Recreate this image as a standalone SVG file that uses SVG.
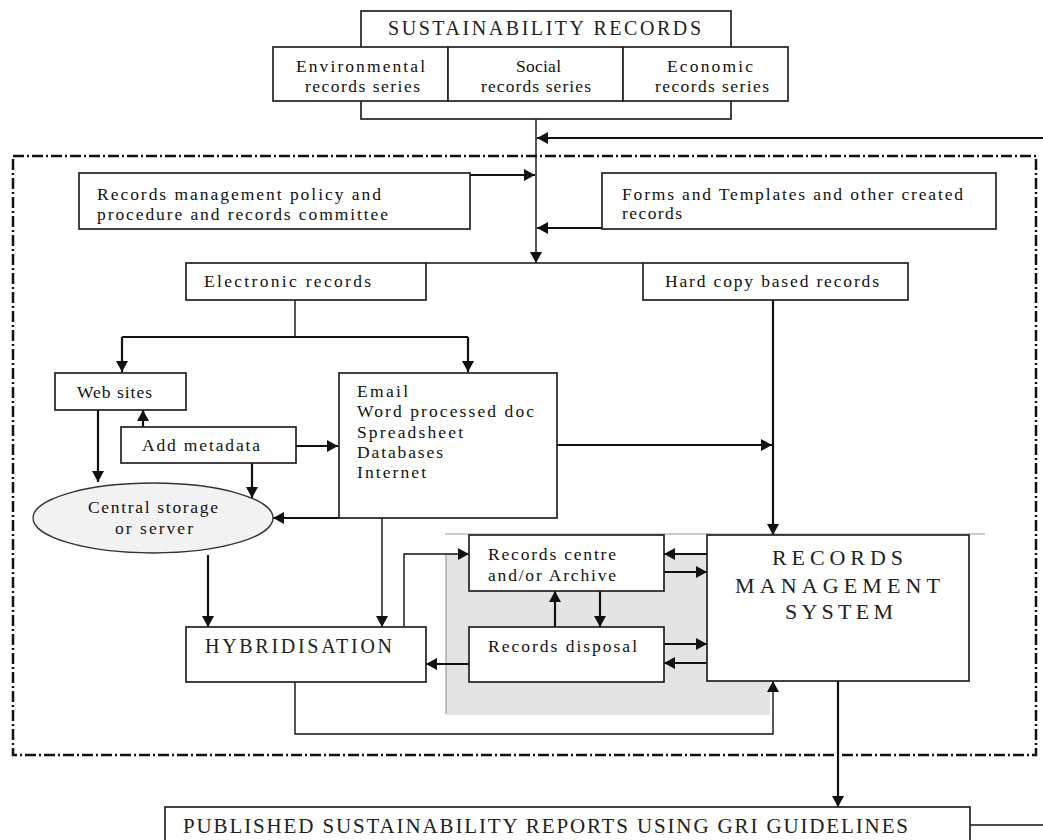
<svg xmlns="http://www.w3.org/2000/svg" width="1043" height="840" viewBox="0 0 1043 840">
<defs>
<marker id="ah" markerUnits="userSpaceOnUse" markerWidth="12" markerHeight="12" refX="11" refY="6" orient="auto">
<path d="M0,0 L11,6 L0,12 z" fill="#111"/>
</marker>
<style>
.box{fill:#fff;stroke:#222;stroke-width:1.7}
.t{font-family:"Liberation Serif","Times New Roman",serif;font-size:17.5px;fill:#111}
.tc{font-family:"Liberation Serif","Times New Roman",serif;fill:#222}
.c{fill:none;stroke:#111;stroke-width:2.2}
.cn{fill:none;stroke:#111;stroke-width:1.4}
.a{marker-end:url(#ah)}
</style>
</defs>
<rect width="1043" height="840" fill="#fff"/>

<g id="shade">
<rect x="446" y="553" width="324" height="162" fill="#e4e4e4"/>
<line x1="446" y1="555" x2="446" y2="714" stroke="#999" stroke-width="1.2"/>
<line x1="445" y1="534" x2="985" y2="534" stroke="#999" stroke-width="1.2"/>
</g>

<rect id="boundary" x="13" y="156" width="1023" height="599" fill="none" stroke="#111" stroke-width="2.5" stroke-dasharray="11,3,2,3"/>

<g id="connectors">
<path class="cn a" d="M536,119 V263"/>
<path class="c a" d="M1043,138 H537"/>
<path class="c a" d="M469,175 H535"/>
<path class="c a" d="M602,228 H537"/>
<path class="cn" d="M426,263 H643"/>
<path class="cn" d="M295,300 V337"/>
<path class="c" d="M122,337 H468"/>
<path class="c a" d="M122,337 V372"/>
<path class="c a" d="M468,337 V372"/>
<path class="c a" d="M98,410 V482"/>
<path class="c a" d="M143,427 V410"/>
<path class="c a" d="M296,446 H338"/>
<path class="c a" d="M252,463 V498"/>
<path class="c a" d="M339,518 H273"/>
<path class="cn a" d="M382,518 V627"/>
<path class="c a" d="M208,555 V627"/>
<path class="c a" d="M557,445 H772"/>
<path class="c a" d="M773,300 V535"/>
<path class="cn a" d="M404,627 V554 H469"/>
<path class="c a" d="M469,664 H426"/>
<path class="c a" d="M555,627 V591"/>
<path class="c a" d="M600,591 V627"/>
<path class="c a" d="M707,554 H664"/>
<path class="c a" d="M664,572 H707"/>
<path class="c a" d="M664,644 H707"/>
<path class="c a" d="M707,663 H664"/>
<path class="cn a" d="M295,682 V734 H773 V681"/>
<path class="c a" d="M838,681 V807"/>
<path class="cn" d="M970,825 H1043"/>
</g>

<g id="sustainability-records">
<rect class="box" x="361" y="11" width="370" height="108"/>
<text class="tc" x="388" y="35" font-size="20" textLength="313" lengthAdjust="spacing">SUSTAINABILITY RECORDS</text>
</g>
<g id="environmental">
<rect class="box" x="273" y="47" width="175" height="54"/>
<text class="t" x="296" y="72" textLength="129" lengthAdjust="spacing">Environmental</text>
<text class="t" x="305" y="92" textLength="115" lengthAdjust="spacing">records series</text>
</g>
<g id="social">
<rect class="box" x="448" y="47" width="175" height="54"/>
<text class="t" x="516" y="72" textLength="45" lengthAdjust="spacing">Social</text>
<text class="t" x="481" y="92" textLength="110" lengthAdjust="spacing">records series</text>
</g>
<g id="economic">
<rect class="box" x="623" y="47" width="165" height="54"/>
<text class="t" x="667" y="72" textLength="86" lengthAdjust="spacing">Economic</text>
<text class="t" x="655" y="92" textLength="114" lengthAdjust="spacing">records series</text>
</g>

<g id="policy">
<rect class="box" x="79" y="173" width="391" height="56"/>
<text class="t" x="97" y="200" textLength="284" lengthAdjust="spacing">Records management policy and</text>
<text class="t" x="97" y="220" textLength="291" lengthAdjust="spacing">procedure and records committee</text>
</g>
<g id="forms">
<rect class="box" x="602" y="173" width="394" height="56"/>
<text class="t" x="622" y="200" textLength="341" lengthAdjust="spacing">Forms and Templates and other created</text>
<text class="t" x="622" y="219" textLength="60" lengthAdjust="spacing">records</text>
</g>

<g id="electronic">
<rect class="box" x="186" y="263" width="240" height="37"/>
<text class="t" x="204" y="287" textLength="167" lengthAdjust="spacing">Electronic records</text>
</g>
<g id="hardcopy">
<rect class="box" x="643" y="263" width="265" height="37"/>
<text class="t" x="665" y="287" textLength="214" lengthAdjust="spacing">Hard copy based records</text>
</g>

<g id="websites">
<rect class="box" x="55" y="373" width="131" height="37"/>
<text class="t" x="77" y="398" textLength="75" lengthAdjust="spacing">Web sites</text>
</g>
<g id="metadata">
<rect class="box" x="121" y="427" width="175" height="36"/>
<text class="t" x="142" y="451" textLength="118" lengthAdjust="spacing">Add metadata</text>
</g>
<g id="email">
<rect class="box" x="339" y="373" width="218" height="145"/>
<text class="t" x="357" y="397" textLength="51" lengthAdjust="spacing">Email</text>
<text class="t" x="357" y="417" textLength="177" lengthAdjust="spacing">Word processed doc</text>
<text class="t" x="357" y="438" textLength="106" lengthAdjust="spacing">Spreadsheet</text>
<text class="t" x="357" y="458" textLength="86" lengthAdjust="spacing">Databases</text>
<text class="t" x="357" y="478" textLength="69" lengthAdjust="spacing">Internet</text>
</g>
<g id="central-storage">
<ellipse cx="153" cy="518" rx="120" ry="35" fill="#f2f2f2" stroke="#333" stroke-width="1.3"/>
<text class="t" x="88" y="513" textLength="130" lengthAdjust="spacing">Central storage</text>
<text class="t" x="115" y="534" textLength="78" lengthAdjust="spacing">or server</text>
</g>

<g id="hybridisation">
<rect class="box" x="186" y="627" width="240" height="55"/>
<text class="tc" x="205" y="653" font-size="20" textLength="187" lengthAdjust="spacing">HYBRIDISATION</text>
</g>
<g id="records-centre">
<rect class="box" x="469" y="535" width="195" height="56"/>
<text class="t" x="488" y="560" textLength="128" lengthAdjust="spacing">Records centre</text>
<text class="t" x="488" y="581" textLength="128" lengthAdjust="spacing">and/or Archive</text>
</g>
<g id="records-disposal">
<rect class="box" x="469" y="627" width="195" height="55"/>
<text class="t" x="488" y="652" textLength="149" lengthAdjust="spacing">Records disposal</text>
</g>
<g id="rms">
<rect class="box" x="707" y="535" width="262" height="146"/>
<text class="tc" x="772" y="565" font-size="22" textLength="131" lengthAdjust="spacing">RECORDS</text>
<text class="tc" x="735" y="593" font-size="22" textLength="205" lengthAdjust="spacing">MANAGEMENT</text>
<text class="tc" x="785" y="619" font-size="22" textLength="108" lengthAdjust="spacing">SYSTEM</text>
</g>

<g id="published">
<rect class="box" x="165" y="807" width="805" height="40"/>
<text class="tc" x="183" y="833" font-size="21" textLength="725" lengthAdjust="spacing">PUBLISHED SUSTAINABILITY REPORTS USING GRI GUIDELINES</text>
</g>
</svg>
